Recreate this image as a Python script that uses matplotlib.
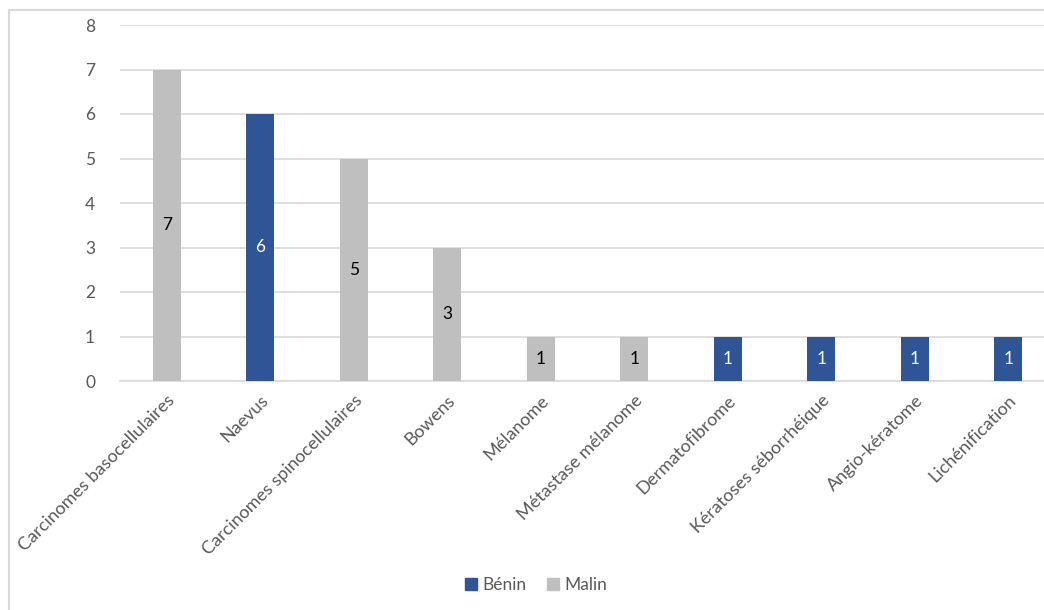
import matplotlib.pyplot as plt
from matplotlib.patches import Rectangle, Patch

# Lesions by type, with their nature (benign / malignant)
categories = ["Carcinomes basocellulaires", "Naevus", "Carcinomes spinocellulaires",
              "Bowens", "Mélanome", "Métastase mélanome", "Dermatofibrome",
              "Kératoses séborrhéique", "Angio-kératome", "Lichénification"]
counts = [7, 6, 5, 3, 1, 1, 1, 1, 1, 1]
nature = ["Malin", "Bénin", "Malin", "Malin", "Malin", "Malin",
          "Bénin", "Bénin", "Bénin", "Bénin"]

colors = {"Bénin": "#2F5597", "Malin": "#BFBFBF"}
label_colors = {"Bénin": "white", "Malin": "black"}
text_grey = "#595959"
grid_grey = "#D9D9D9"

plt.rcParams["font.family"] = ["Lato", "DejaVu Sans"]

fig = plt.figure(figsize=(10.44, 6.1), dpi=100)
ax = fig.add_axes([120 / 1044, 1 - 381 / 610, 935 / 1044, 356 / 610])

x = list(range(len(categories)))
bars = ax.bar(x, counts, width=0.3, color=[colors[n] for n in nature], zorder=3)

for bar, value, n in zip(bars, counts, nature):
    ax.text(bar.get_x() + bar.get_width() / 2, value / 2, str(value),
            ha="center", va="center", fontsize=12.5, color=label_colors[n], zorder=4)

ax.set_xlim(-0.5, len(categories) - 0.5)
ax.set_ylim(0, 8)
ax.set_yticks(range(0, 9))
ax.yaxis.grid(True, color=grid_grey, linewidth=1.2, zorder=0)
ax.set_axisbelow(True)

for side in ["top", "right", "left"]:
    ax.spines[side].set_visible(False)
ax.spines["bottom"].set_color(grid_grey)
ax.spines["bottom"].set_linewidth(1.2)

ax.tick_params(axis="y", length=0, pad=18, labelsize=12.5, labelcolor=text_grey)
ax.tick_params(axis="x", length=0, pad=8, labelsize=13, labelcolor=text_grey)
ax.set_xticks(x)
ax.set_xticklabels(categories, rotation=45, ha="right", rotation_mode="anchor")

handles = [Patch(color=colors["Bénin"], label="Bénin"),
           Patch(color=colors["Malin"], label="Malin")]
fig.legend(handles=handles, loc="center", bbox_to_anchor=(536 / 1044, 1 - 585 / 610),
           ncol=2, frameon=False, fontsize=12.5, labelcolor=text_grey,
           handlelength=0.7, handleheight=0.7, handletextpad=0.3, columnspacing=1.2)

# chart area border
fig.patches.append(Rectangle((9 / 1044, -0.1), 1.1, 1 - 10 / 610 + 0.1,
                             transform=fig.transFigure, fill=False,
                             edgecolor=grid_grey, linewidth=1.5))

fig.savefig("out.png", dpi=100)
